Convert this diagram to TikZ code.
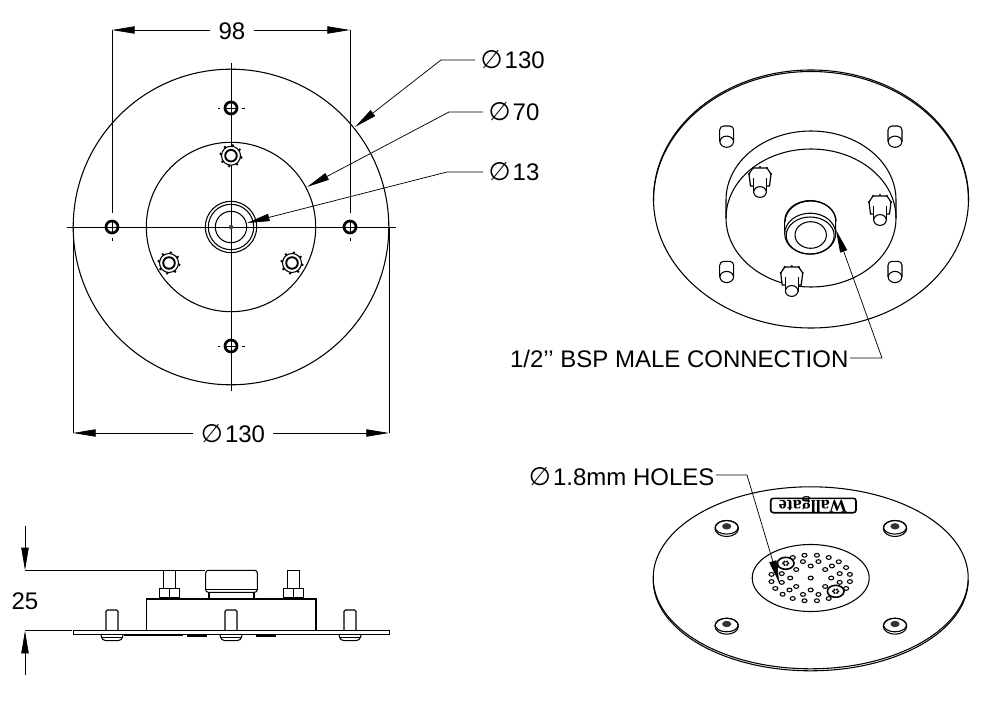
\documentclass[tikz,border=0pt]{standalone}
\usepackage{fontspec}
\setmainfont{Liberation Sans}
\newfontfamily\symfont{DejaVu Sans}
\newfontfamily\logofont{Liberation Serif}
\usetikzlibrary{arrows.meta}
\newcommand{\dia}{{\symfont\fontsize{19pt}{19pt}\selectfont ∅}\kern1.5pt}
\tikzset{
  part/.style={draw=black, line width=0.8pt},
  thick part/.style={draw=black, line width=2pt},
  axis/.style={draw=black, line width=0.55pt},
  dim/.style={draw=black, line width=0.55pt},
  arrowed/.style={-{Triangle[length=17pt,width=5.5pt]}},
  lbl/.style={text=black, font=\fontsize{18pt}{20pt}\selectfont, inner sep=4pt},
  dimlbl/.style={lbl, inner sep=6pt},
  hole/.style={thick part, fill=white},
  nut/.pic={
    \draw[part, fill=white] (0,0) circle (9.5);
    \foreach \a in {10,55,100,145,190,235,280,325}
      \fill (\a:10.5) circle (1.4);
    \draw[draw=black, line width=1.4pt, fill=white] (0,0) circle (5.8);
  },
  stud/.pic={
    \draw[part, line width=0.9pt, fill=white] (-11,-3) -- (-7,-9) -- (7,-9) -- (11,-3) -- (9.5,9) -- (-9.5,9) -- cycle;
    \foreach \p in {(-11,-3),(-7,-9),(0,-10),(7,-9),(11,-3)}
      \fill \p circle (1.1);
    \draw[part, fill=white] (-6.5,1) -- (-6.5,15) -- (6.5,15) -- (6.5,1);
    \draw[part, fill=white] (0,15) ellipse (6.3 and 5.4);
  },
  peg/.pic={
    \draw[part, fill=white, rounded corners=3pt] (-7,0) -- (-7,-15.7) -- (7,-15.7) -- (7,0);
    \draw[part, fill=white] (0,0) ellipse (6.8 and 5.6);
  },
  screw/.pic={
    \draw[part, fill=white] (0,1.2) ellipse (11.7 and 8);
    \draw[part] (0,0) ellipse (11.5 and 6.8);
    \fill[black!80] (0,-1) ellipse (4.6 and 3.2);
  },
  sidepeg/.pic={
    \draw[part, rounded corners=1pt] (-6,0) -- (-6,-20.7) -- (6,-20.7) -- (6,0);
    \draw[part, rounded corners=3pt] (-11,4) -- (-10,10) -- (10,10) -- (11,4);
    \draw[part] (-11,7) -- (11,7);
  },
  sidestud/.pic={
    \draw[part] (-6,-9) -- (-6,-27.4) -- (6,-27.4) -- (6,-9);
    \draw[part] (-10,-9) rectangle (10,0);
    \draw[part] (0,-9) -- (0,0);
    \draw[line width=1.4pt] (-12,1) -- (12,1);
  }
}

\begin{document}
\begin{tikzpicture}[x=0.75pt,y=-0.75pt]
  \useasboundingbox (0,0) rectangle (999,702);

  % Top view
  \coordinate (O) at (231,227);
  \draw[part] (O) circle (157.8);
  \draw[part] (O) circle (84.7);
  \draw[part] (O) circle (25.7);
  \draw[part] (O) circle (22.7);
  \draw[part] (O) circle (15.7);
  \foreach \x/\y in {112/227,350/227,231/108,231/346}
    \draw[hole] (\x,\y) circle (6);
  \draw[axis] (67,227) -- (396,227);
  \draw[axis] (231,63) -- (231,391);
  \fill[black!75] (O) circle (2.2);
  \draw[axis] (112,221) -- (112,233);
  \draw[axis] (350,221) -- (350,233);
  \draw[axis] (225,108) -- (237,108);
  \draw[axis] (225,346) -- (237,346);
  \foreach \x in {112,350} \draw[axis] (\x,238) -- (\x,241);
  \foreach \y in {108,346} {
    \draw[axis] (218,\y) -- (220,\y);
    \draw[axis] (242,\y) -- (245,\y);
  }
  \pic at (231,155.7) {nut};
  \pic at (169,263) {nut};
  \pic at (292,263) {nut};

  % Top view dimensions
  \node[dimlbl] (lblA) at (232,31) {98};
  \coordinate (A1) at (112,30);
  \coordinate (A2) at (350,30);
  \coordinate (A3) at (112,213);
  \coordinate (A4) at (350,213);
  \draw[dim] (A3) -- (A1);
  \draw[dim] (A4) -- (A2);
  \draw[dim, arrowed] (lblA.west |- A1) -- (A1);
  \draw[dim, arrowed] (lblA.east |- A2) -- (A2);

  \node[dimlbl] (lblB) at (233,434) {\dia 130};
  \coordinate (B1) at (73,433);
  \coordinate (B2) at (389,433);
  \draw[dim] (73,227) -- (B1);
  \draw[dim] (389,227) -- (B2);
  \draw[dim, arrowed] (lblB.west |- B1) -- (B1);
  \draw[dim, arrowed] (lblB.east |- B2) -- (B2);

  \node[lbl, anchor=west] (lblC) at (475,60) {\dia 130};
  \node[lbl, anchor=west] (lblD) at (483,112) {\dia 70};
  \node[lbl, anchor=west] (lblE) at (483,172) {\dia 13};
  \coordinate (C1) at (441,60);
  \coordinate (C2) at (355,127);
  \coordinate (D1) at (449,112);
  \coordinate (D2) at (307,187);
  \coordinate (E1) at (447,172);
  \coordinate (E2) at (247,223);
  \draw[dim, arrowed] (lblC.west) -- (C1) -- (C2);
  \draw[dim, arrowed] (lblD.west) -- (D1) -- (D2);
  \draw[dim, arrowed] (lblE.west) -- (E1) -- (E2);

  % Rear view
  \draw[part] (811,199) ellipse (157.5 and 129);
  \draw[part] (653.5,200.5) arc[start angle=180,end angle=360,x radius=157.5,y radius=129];
  \draw[part] (726,218) -- (726,200) arc[start angle=180,end angle=360,x radius=85,y radius=69] -- (896,218);
  \draw[part] (811,218) ellipse (85 and 69);
  \foreach \x/\y in {726.7/141.7,895/141.7,726.7/277,895/277}
    \pic at (\x,\y) {peg};
  \pic at (760,177) {stud};
  \pic at (880,205) {stud};
  \pic at (791.7,276) {stud};
  \draw[part, fill=white] (784.7,234) -- (784.7,221) arc[start angle=180,end angle=360,x radius=25.5,y radius=20.5] -- (835.7,234);
  \draw[part] (785.2,221.5) arc[start angle=180,end angle=360,x radius=25.5,y radius=20.5];
  \draw[part, fill=white] (810.2,233.7) ellipse (25.5 and 20.5);
  \draw[part] (810.2,235.5) ellipse (24 and 18.5);
  \draw[part] (810.7,235) ellipse (15.7 and 13.3);

  \node[lbl, anchor=east, inner sep=1pt] (lblF) at (850,359) {1/2'{}' BSP MALE CONNECTION};
  \coordinate (F1) at (882,358);
  \coordinate (F2) at (836,230);
  \draw[dim, arrowed] (lblF.east |- F1) -- (F1) -- (F2);

  % Front view
  \draw[part] (810.7,577.8) ellipse (157.5 and 91);
  \draw[part] (653.2,579.8) arc[start angle=180,end angle=0,x radius=157.5,y radius=91];
  \draw[part] (810.7,578) ellipse (58.5 and 33.5);
  \foreach \x/\y in {726.7/527.3,895/527.3,726.7/625,895/625}
    \pic at (\x,\y) {screw};
  \foreach \a in {9,27,...,351}
    \draw[part] (810.7,578) ++({39.7*cos(\a)},{23*sin(\a)}) ellipse (2.5 and 1.9);
  \foreach \a in {15,45,...,345}
    \draw[part] (810.7,578) ++({30*cos(\a)},{17*sin(\a)}) ellipse (2.5 and 1.9);
  \foreach \a in {0,45,...,315}
    \draw[part] (810.7,578) ++({20.5*cos(\a)},{12*sin(\a)}) ellipse (2.5 and 1.9);
  \draw[part] (810.7,578) ellipse (2.5 and 1.9);
  \foreach \x/\y in {785.7/563.3,835.7/591.3} {
    \draw[part, line width=1.2pt, fill=white] (\x,\y) ellipse (8.3 and 6);
    \foreach \a in {0,60,...,300}
      \fill (\x,\y) ++({2.6*cos(\a)},{1.9*sin(\a)}) circle (1.2);
  }
  \draw[part, rounded corners=2pt, line width=1.2pt] (770.7,498.3) rectangle (856,512.7);
  \node[rotate=180, inner sep=0pt, font=\logofont\bfseries\fontsize{13.5pt}{13.5pt}\selectfont] (logo) at (813,505) {Wallgate};

  \node[lbl, anchor=east, inner sep=1pt] (lblG) at (716,477) {\dia 1.8mm HOLES};
  \coordinate (G1) at (747,475);
  \coordinate (G2) at (779.3,583);
  \draw[dim, arrowed] (lblG.east |- G1) -- (G1) -- (G2);

  % Side view
  \draw[part] (73.3,630.7) rectangle (389.3,634.7);
  \draw[part] (146.7,630.7) -- (146.7,599) -- (316,599) -- (316,630.7);
  \draw[part] (209,599) -- (209,592.3);
  \draw[part] (254,599) -- (254,592.3);
  \draw[part, rounded corners=2pt] (205.7,592.3) rectangle (257.3,570.3);
  \draw[part] (206,589.5) -- (257,589.5);
  \pic at (169.5,597.7) {sidestud};
  \pic at (293.3,597.7) {sidestud};
  \foreach \x in {112,231,350}
    \pic at (\x,630.7) {sidepeg};
  \draw[line width=1.2pt] (124,635.5) -- (183,635.5);
  \draw[line width=1.2pt] (187,635.7) -- (207,635.7);
  \draw[line width=1.2pt] (256,635.7) -- (276,635.7);

  \node[lbl] (lblH) at (25,601.5) {25};
  \coordinate (H1) at (25,526);
  \coordinate (H2) at (25,570.3);
  \coordinate (H3) at (205,570.3);
  \coordinate (H4) at (25,675);
  \coordinate (H5) at (25,630.7);
  \coordinate (H6) at (71.7,630.7);
  \draw[dim, arrowed] (H1) -- (H2);
  \draw[dim] (H2) -- (H3);
  \draw[dim, arrowed] (H4) -- (H5);
  \draw[dim] (H5) -- (H6);
\end{tikzpicture}
\end{document}
